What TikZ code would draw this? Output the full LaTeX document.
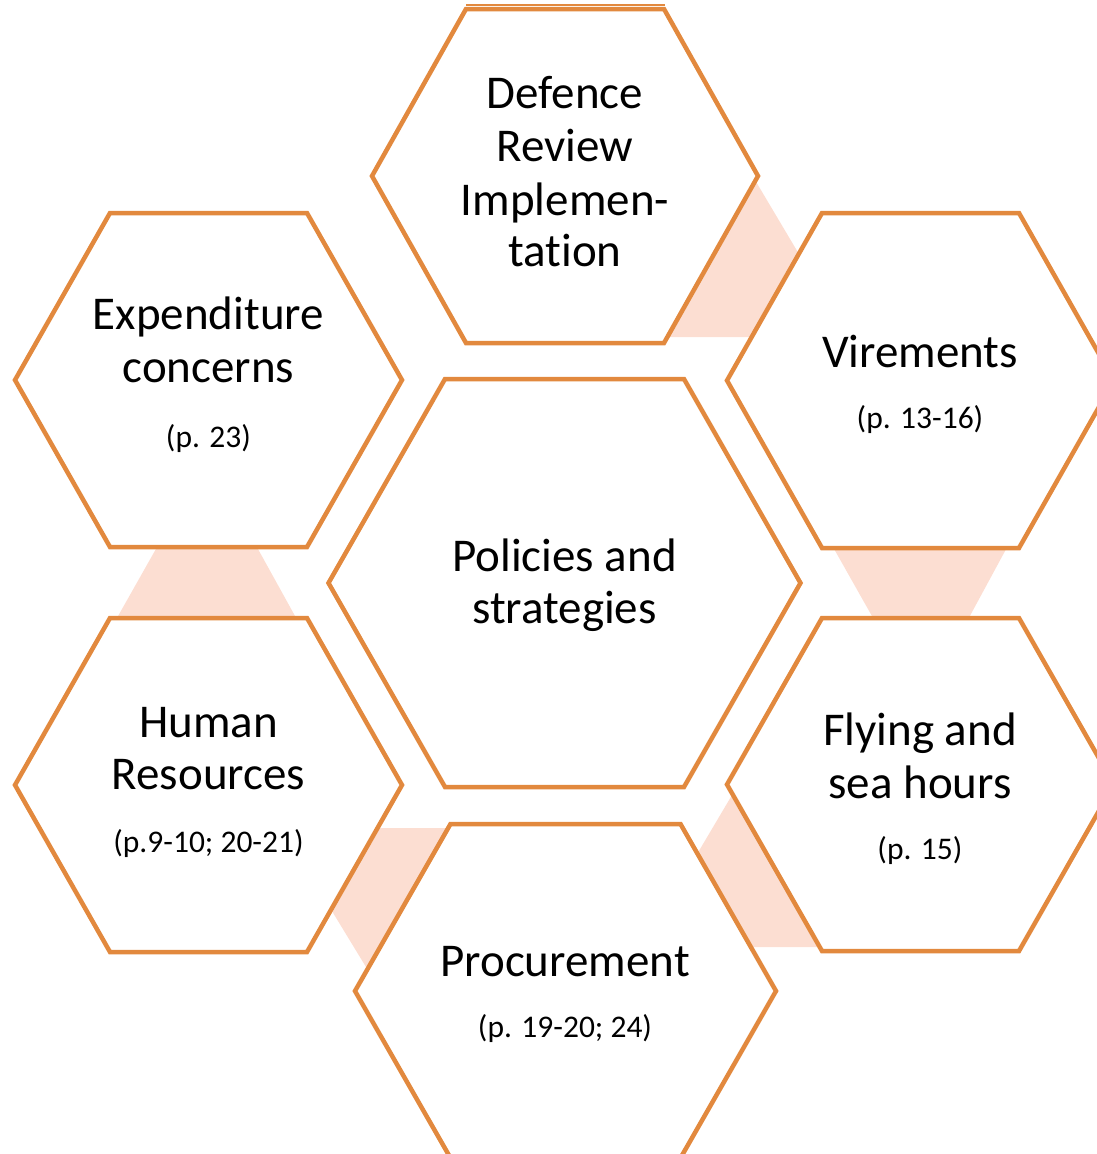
\documentclass[tikz,border=0pt]{standalone}
\usepackage{fontspec}
\setmainfont[RawFeature={-liga}]{Carlito}
\definecolor{hexorange}{RGB}{226,137,62}
\definecolor{linkpink}{RGB}{252,222,210}
% #1 cx, #2 cy, #3 half width, #4 half height, #5 half top edge
\newcommand\drawhex[5]{%
  \path[hexline] (#1-#3,#2) -- (#1-#5,#2-#4) -- (#1+#5,#2-#4) -- (#1+#3,#2)
    -- (#1+#5,#2+#4) -- (#1-#5,#2+#4) -- cycle;}
\tikzset{
  hexline/.style={draw=hexorange, line width=4.5pt, fill=white},
  link/.style={fill=linkpink, draw=none},
  big/.style={font=\fontsize{47}{53}\selectfont, anchor=base, inner sep=0pt},
  small/.style={font=\fontsize{31.5}{36}\selectfont, anchor=base, inner sep=0pt}
}
\begin{document}
\begin{tikzpicture}[x=1pt, y=-1pt]
\useasboundingbox (0,0) rectangle (1097,1154);
\clip (0,0) rectangle (1097,1154);
% pink links (behind)
\fill[link] (752,175) -- (812,276) -- (765,337) -- (660,337) -- cycle;
\fill[link] (161,540) -- (253,540) -- (300,625) -- (113,625) -- cycle;
\fill[link] (829,540) -- (1011,540) -- (965,625) -- (877,625) -- cycle;
\fill[link] (372,828) -- (470,828) -- (380,990) -- (324,898) -- cycle;
\fill[link] (735,790) -- (690,866) -- (740,947) -- (830,947) -- cycle;
% thin line above top hexagon
\draw[hexorange, line width=1.5pt] (466,5) -- (665,5);
% hexagons
\drawhex{565}{176}{193}{167}{99}
\drawhex{208.5}{380}{193.5}{167}{98.5}
\drawhex{208.5}{785}{193.5}{167}{98.5}
\drawhex{920.5}{380.5}{193.5}{167.5}{98.5}
\drawhex{920.5}{784.5}{193.5}{166.5}{98.5}
\drawhex{564.5}{583}{236}{204}{119.5}
\drawhex{565.5}{991}{210.5}{167}{115}
% texts
\node[big] (d1) at (565,108) {Defence};
\node[big] (d2) at (565,161) {Review};
\node[big] (d3) at (565,215) {Implemen-};
\node[big] (d4) at (565,266) {tation};
\node[big] (e1) at (208.5,329) {Expenditure};
\node[big] (e2) at (208.5,382) {concerns};
\node[small] (e3) at (208.5,447) {(p. 23)};
\node[big] (v1) at (920,367) {Virements};
\node[small] (v2) at (920,428) {(p. 13-16)};
\node[big] (c1) at (564.5,571) {Policies and};
\node[big] (c2) at (564.5,623) {strategies};
\node[big] (h1) at (208.5,737) {Human};
\node[big] (h2) at (208.5,789) {Resources};
\node[small] (h3) at (208.5,852) {(p.9-10; 20-21)};
\node[big] (f1) at (920,745) {Flying and};
\node[big] (f2) at (920,798) {sea hours};
\node[small] (f3) at (920,859) {(p. 15)};
\node[big] (p1) at (565,976) {Procurement};
\node[small] (p2) at (565,1037) {(p. 19-20; 24)};
\end{tikzpicture}
\end{document}
